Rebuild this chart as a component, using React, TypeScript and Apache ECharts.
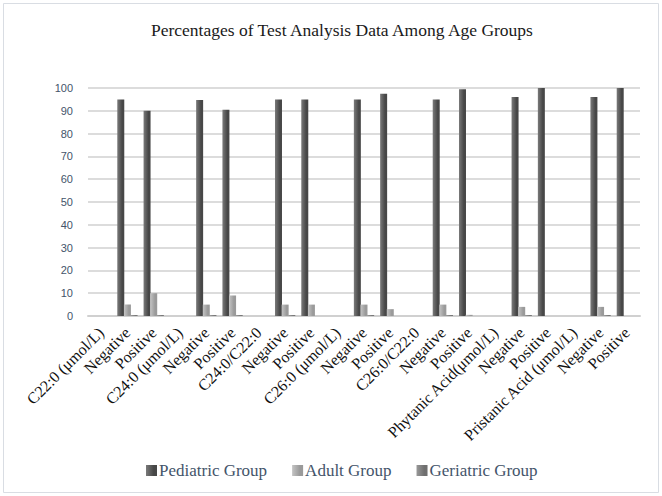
import React, { useEffect, useRef } from "react";
import * as echarts from "echarts";

const categories = [
  "C22:0 (μmol/L)", "Negative", "Positive",
  "C24:0 (μmol/L)", "Negative", "Positive",
  "C24:0/C22:0", "Negative", "Positive",
  "C26:0 (μmol/L)", "Negative", "Positive",
  "C26:0/C22:0", "Negative", "Positive",
  "Phytanic Acid(μmol/L)", "Negative", "Positive",
  "Pristanic Acid (μmol/L)", "Negative", "Positive",
];

const pediatric = [null, 95, 90, null, 94.7, 90.5, null, 95, 95, null, 95, 97.5, null, 95, 99.5, null, 96, 100, null, 96, 100];
const adult = [null, 5, 10, null, 5, 9, null, 5, 5, null, 5, 3, null, 5, 0.5, null, 4, 0, null, 4, 0];
const geriatric = [null, 0.4, 0.4, null, 0.4, 0.4, null, 0.4, 0, null, 0.4, 0, null, 0.4, 0, null, 0.4, 0, null, 0.4, 0];

const yTicks = { min: 0, max: 100, interval: 10 };

function grad(c1: string, c2: string) {
  return new echarts.graphic.LinearGradient(0, 0, 1, 0, [
    { offset: 0, color: c1 },
    { offset: 0.7, color: c2 },
    { offset: 1, color: c2 },
  ]);
}

export default function App() {
  const ref = useRef<HTMLDivElement>(null);
  useEffect(() => {
    if (!ref.current) return;
    const chart = echarts.init(ref.current, null, { renderer: "svg" });
    chart.setOption({
      animation: false,
      backgroundColor: "#ffffff",
      title: {
        text: "Percentages of Test Analysis Data Among Age Groups",
        left: 146,
        top: 16,
        textStyle: { fontFamily: "Liberation Serif", fontSize: 17.5, fontWeight: "normal", color: "#1a1a1a" },
      },
      legend: {
        bottom: 12,
        left: 141,
        itemWidth: 11,
        itemHeight: 11,
        itemGap: 25,
        icon: "rect",
        textStyle: { fontFamily: "Liberation Serif", fontSize: 17, color: "#44546a", padding: [0, 0, 0, -3] },
        data: ["Pediatric Group", "Adult Group", "Geriatric Group"],
      },
      grid: { left: 88, right: 22, top: 88, bottom: 180, containLabel: false },
      xAxis: {
        type: "category",
        data: categories,
        axisTick: { show: false },
        axisLine: { lineStyle: { color: "#d0d0d0", width: 2 } },
        axisLabel: {
          interval: 0,
          rotate: 45,
          margin: 14,
          fontFamily: "Liberation Serif",
          fontSize: 16,
          color: "#111111",
        },
      },
      yAxis: {
        type: "value",
        min: yTicks.min,
        max: yTicks.max,
        interval: yTicks.interval,
        axisLine: { show: false },
        axisTick: { show: false },
        splitLine: { lineStyle: { color: "#dcdcdc", width: 2 } },
        axisLabel: { fontFamily: "Liberation Sans", fontSize: 11, color: "#44546a", margin: 15 },
      },
      series: [
        {
          name: "Pediatric Group",
          type: "bar",
          data: pediatric,
          barWidth: 7,
          barGap: "-5%",
          itemStyle: { color: grad("#7a7a7a", "#474747") },
        },
        {
          name: "Adult Group",
          type: "bar",
          data: adult,
          barWidth: 7,
          barGap: "-5%",
          itemStyle: { color: grad("#c4c4c4", "#9a9a9a") },
        },
        {
          name: "Geriatric Group",
          type: "bar",
          data: geriatric,
          barWidth: 7,
          barGap: "-5%",
          itemStyle: { color: grad("#999999", "#6f6f6f") },
        },
      ],
      graphic: [
        {
          type: "rect",
          shape: { x: 3.5, y: 3.5, width: 655, height: 489 },
          style: { fill: "none", stroke: "#d9dde3", lineWidth: 1 },
          silent: true,
        },
      ],
    });
    return () => chart.dispose();
  }, []);
  return (
    <div
      ref={ref}
      style={{ position: "absolute", left: 0, top: 0, width: 662, height: 496 }}
    />
  );
}
